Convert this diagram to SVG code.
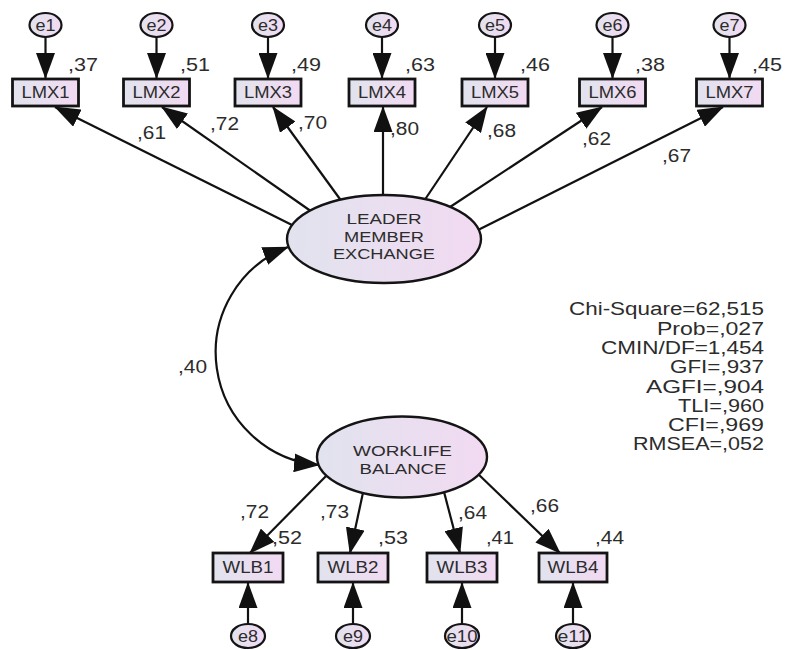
<svg xmlns="http://www.w3.org/2000/svg" width="787" height="650" viewBox="0 0 787 650">
<style>
  .bg { fill: #ffffff; }
  .obs { fill: url(#gfill); stroke: #141414; stroke-width: 2.8; }
  .lat { fill: url(#gfill); stroke: #141414; stroke-width: 2.4; }
  .err { fill: url(#gfill); stroke: #141414; stroke-width: 2.2; }
  .con { fill: none; stroke: #111111; stroke-width: 2.2; marker-end: url(#ah); }
  .cov { fill: none; stroke: #111111; stroke-width: 2.2; marker-start: url(#ah); marker-end: url(#ah); }
  text { font-family: "Liberation Sans", Arial, sans-serif; fill: #2c2c2c; }
  .t15 { font-size: 16px; text-anchor: middle; }
  .t16 { font-size: 15px; text-anchor: middle; }
  .num { font-size: 18px; }
  .fit { font-size: 18px; text-anchor: end; }
</style>
<defs>
  <linearGradient id="gfill" x1="0" y1="0" x2="1" y2="0">
    <stop offset="0" stop-color="#e1e3ee"/>
    <stop offset="1" stop-color="#f2daf2"/>
  </linearGradient>
  <marker id="ah" markerUnits="userSpaceOnUse" markerWidth="26" markerHeight="19" viewBox="0 0 26 19" refX="25" refY="9.5" orient="auto-start-reverse">
    <path d="M0,0 L26,9.5 L0,19 Z" fill="#111111"/>
  </marker>
</defs>
<rect class="bg" x="0" y="0" width="787" height="650"/>

<g id="connectors">
  <path class="con" d="M45.5,37 L45.5,78"/>
  <path class="con" d="M156.5,37 L156.5,78"/>
  <path class="con" d="M268,37 L268,78"/>
  <path class="con" d="M382,37 L382,78"/>
  <path class="con" d="M495,37 L495,78"/>
  <path class="con" d="M612.5,37 L612.5,78"/>
  <path class="con" d="M729.5,37 L729.5,78"/>
  <path class="con" d="M300,229 L55,107"/>
  <path class="con" d="M315,214 L162,107"/>
  <path class="con" d="M341,200.5 L273,107"/>
  <path class="con" d="M383,200 L383,107"/>
  <path class="con" d="M425,199.5 L487,107"/>
  <path class="con" d="M447,209 L602,107"/>
  <path class="con" d="M472,233 L723,107"/>
  <path class="cov" d="M288,247 A113,113 0 0 0 319,465"/>
  <path class="con" d="M330,472 L250,553"/>
  <path class="con" d="M364,488 L350,553"/>
  <path class="con" d="M443,488 L460,553"/>
  <path class="con" d="M476,472 L560,553"/>
  <path class="con" d="M248,624 L248,583"/>
  <path class="con" d="M353,624 L353,583"/>
  <path class="con" d="M462,624 L462,583"/>
  <path class="con" d="M573,624 L573,583"/>
  <text class="num" x="137" y="139" textLength="29" lengthAdjust="spacingAndGlyphs">,61</text>
  <text class="num" x="210" y="130" textLength="29" lengthAdjust="spacingAndGlyphs">,72</text>
  <text class="num" x="298" y="129" textLength="29" lengthAdjust="spacingAndGlyphs">,70</text>
  <text class="num" x="390" y="135" textLength="29" lengthAdjust="spacingAndGlyphs">,80</text>
  <text class="num" x="487" y="137" textLength="29" lengthAdjust="spacingAndGlyphs">,68</text>
  <text class="num" x="582" y="145" textLength="29" lengthAdjust="spacingAndGlyphs">,62</text>
  <text class="num" x="662" y="162" textLength="29" lengthAdjust="spacingAndGlyphs">,67</text>
  <text class="num" x="178" y="373" textLength="29" lengthAdjust="spacingAndGlyphs">,40</text>
  <text class="num" x="240" y="518" textLength="29" lengthAdjust="spacingAndGlyphs">,72</text>
  <text class="num" x="320" y="518" textLength="29" lengthAdjust="spacingAndGlyphs">,73</text>
  <text class="num" x="458" y="519" textLength="29" lengthAdjust="spacingAndGlyphs">,64</text>
  <text class="num" x="530" y="512" textLength="29" lengthAdjust="spacingAndGlyphs">,66</text>
</g>

<g id="LMX">
  <ellipse class="lat" cx="384" cy="239" rx="97" ry="44"/>
  <text class="t16" x="384" y="224" textLength="75" lengthAdjust="spacingAndGlyphs">LEADER</text>
  <text class="t16" x="384" y="241.5" textLength="80" lengthAdjust="spacingAndGlyphs">MEMBER</text>
  <text class="t16" x="384" y="259" textLength="102" lengthAdjust="spacingAndGlyphs">EXCHANGE</text>
</g>
<g id="WLB">
  <ellipse class="lat" cx="402" cy="457" rx="85" ry="40.5"/>
  <text class="t16" x="402.5" y="456" textLength="99" lengthAdjust="spacingAndGlyphs">WORKLIFE</text>
  <text class="t16" x="403" y="473.5" textLength="87" lengthAdjust="spacingAndGlyphs">BALANCE</text>
</g>

<g id="e1"><ellipse class="err" cx="45.5" cy="25" rx="16" ry="12"/><text class="t15" x="45.5" y="31" textLength="20" lengthAdjust="spacingAndGlyphs">e1</text></g>
<g id="e2"><ellipse class="err" cx="156.5" cy="25" rx="16" ry="12"/><text class="t15" x="156.5" y="31" textLength="20" lengthAdjust="spacingAndGlyphs">e2</text></g>
<g id="e3"><ellipse class="err" cx="268" cy="25" rx="16" ry="12"/><text class="t15" x="268" y="31" textLength="20" lengthAdjust="spacingAndGlyphs">e3</text></g>
<g id="e4"><ellipse class="err" cx="382" cy="25" rx="16" ry="12"/><text class="t15" x="382" y="31" textLength="20" lengthAdjust="spacingAndGlyphs">e4</text></g>
<g id="e5"><ellipse class="err" cx="495" cy="25" rx="16" ry="12"/><text class="t15" x="495" y="31" textLength="20" lengthAdjust="spacingAndGlyphs">e5</text></g>
<g id="e6"><ellipse class="err" cx="612.5" cy="25" rx="16" ry="12"/><text class="t15" x="612.5" y="31" textLength="20" lengthAdjust="spacingAndGlyphs">e6</text></g>
<g id="e7"><ellipse class="err" cx="729.5" cy="25" rx="16" ry="12"/><text class="t15" x="729.5" y="31" textLength="20" lengthAdjust="spacingAndGlyphs">e7</text></g>

<g id="LMX1"><rect class="obs" x="12.5" y="79" width="66" height="27"/><text class="t15" x="45.5" y="98" textLength="48" lengthAdjust="spacingAndGlyphs">LMX1</text><text class="num" x="68" y="71" textLength="30" lengthAdjust="spacingAndGlyphs">,37</text></g>
<g id="LMX2"><rect class="obs" x="123.5" y="79" width="66" height="27"/><text class="t15" x="156.5" y="98" textLength="48" lengthAdjust="spacingAndGlyphs">LMX2</text><text class="num" x="180" y="71" textLength="30" lengthAdjust="spacingAndGlyphs">,51</text></g>
<g id="LMX3"><rect class="obs" x="235" y="79" width="66" height="27"/><text class="t15" x="268" y="98" textLength="48" lengthAdjust="spacingAndGlyphs">LMX3</text><text class="num" x="291" y="71" textLength="30" lengthAdjust="spacingAndGlyphs">,49</text></g>
<g id="LMX4"><rect class="obs" x="349" y="79" width="66" height="27"/><text class="t15" x="382" y="98" textLength="48" lengthAdjust="spacingAndGlyphs">LMX4</text><text class="num" x="405" y="71" textLength="30" lengthAdjust="spacingAndGlyphs">,63</text></g>
<g id="LMX5"><rect class="obs" x="462" y="79" width="66" height="27"/><text class="t15" x="495" y="98" textLength="48" lengthAdjust="spacingAndGlyphs">LMX5</text><text class="num" x="520" y="71" textLength="30" lengthAdjust="spacingAndGlyphs">,46</text></g>
<g id="LMX6"><rect class="obs" x="579.5" y="79" width="66" height="27"/><text class="t15" x="612.5" y="98" textLength="48" lengthAdjust="spacingAndGlyphs">LMX6</text><text class="num" x="635" y="71" textLength="30" lengthAdjust="spacingAndGlyphs">,38</text></g>
<g id="LMX7"><rect class="obs" x="696.5" y="79" width="66" height="27"/><text class="t15" x="729.5" y="98" textLength="48" lengthAdjust="spacingAndGlyphs">LMX7</text><text class="num" x="752" y="71" textLength="30" lengthAdjust="spacingAndGlyphs">,45</text></g>

<g id="WLB1"><rect class="obs" x="213" y="553" width="70" height="29"/><text class="t15" x="248" y="573" textLength="51" lengthAdjust="spacingAndGlyphs">WLB1</text><text class="num" x="272" y="544" textLength="30" lengthAdjust="spacingAndGlyphs">,52</text></g>
<g id="WLB2"><rect class="obs" x="318" y="553" width="70" height="29"/><text class="t15" x="353" y="573" textLength="51" lengthAdjust="spacingAndGlyphs">WLB2</text><text class="num" x="378" y="544" textLength="30" lengthAdjust="spacingAndGlyphs">,53</text></g>
<g id="WLB3"><rect class="obs" x="427" y="553" width="70" height="29"/><text class="t15" x="462" y="573" textLength="51" lengthAdjust="spacingAndGlyphs">WLB3</text><text class="num" x="486" y="544" textLength="28" lengthAdjust="spacingAndGlyphs">,41</text></g>
<g id="WLB4"><rect class="obs" x="539" y="553" width="68" height="29"/><text class="t15" x="573" y="573" textLength="51" lengthAdjust="spacingAndGlyphs">WLB4</text><text class="num" x="595" y="544" textLength="29" lengthAdjust="spacingAndGlyphs">,44</text></g>

<g id="e8"><ellipse class="err" cx="248" cy="636" rx="17" ry="12"/><text class="t15" x="248" y="642" textLength="20" lengthAdjust="spacingAndGlyphs">e8</text></g>
<g id="e9"><ellipse class="err" cx="353" cy="636" rx="17" ry="12"/><text class="t15" x="353" y="642" textLength="20" lengthAdjust="spacingAndGlyphs">e9</text></g>
<g id="e10"><ellipse class="err" cx="462" cy="636" rx="17" ry="12"/><text class="t15" x="462" y="642" textLength="31" lengthAdjust="spacingAndGlyphs">e10</text></g>
<g id="e11"><ellipse class="err" cx="573" cy="636" rx="17" ry="12"/><text class="t15" x="573" y="642" textLength="31" lengthAdjust="spacingAndGlyphs">e11</text></g>

<g id="fit-stats">
  <text class="fit" x="764" y="315" textLength="195" lengthAdjust="spacingAndGlyphs">Chi-Square=62,515</text>
  <text class="fit" x="764" y="335" textLength="107" lengthAdjust="spacingAndGlyphs">Prob=,027</text>
  <text class="fit" x="764" y="354" textLength="163" lengthAdjust="spacingAndGlyphs">CMIN/DF=1,454</text>
  <text class="fit" x="764" y="373" textLength="94" lengthAdjust="spacingAndGlyphs">GFI=,937</text>
  <text class="fit" x="764" y="393" textLength="118" lengthAdjust="spacingAndGlyphs">AGFI=,904</text>
  <text class="fit" x="764" y="412" textLength="86" lengthAdjust="spacingAndGlyphs">TLI=,960</text>
  <text class="fit" x="764" y="431" textLength="96" lengthAdjust="spacingAndGlyphs">CFI=,969</text>
  <text class="fit" x="764" y="450" textLength="131" lengthAdjust="spacingAndGlyphs">RMSEA=,052</text>
</g>
</svg>
